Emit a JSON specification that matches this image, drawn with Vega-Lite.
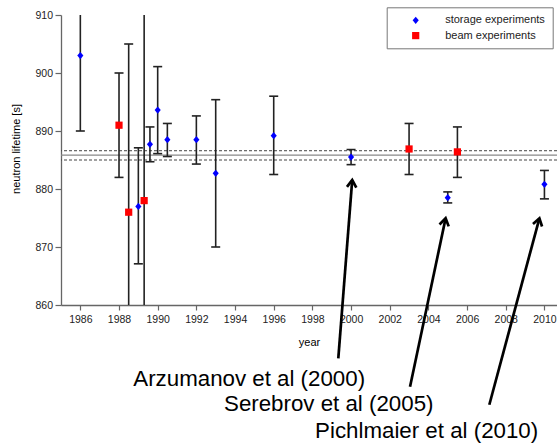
{
  "$schema": "https://vega.github.io/schema/vega-lite/v6.json",
  "width": 496,
  "height": 290,
  "autosize": {"type": "none"},
  "padding": {"left": 61, "top": 15, "right": 0, "bottom": 143},
  "background": "white",
  "datasets": {
    "measurements": [
      {"year": 1986, "lifetime": 903, "low": 890, "high": 916, "type": "storage experiments"},
      {"year": 1988, "lifetime": 891, "low": 882, "high": 900, "type": "beam experiments"},
      {"year": 1988.5, "lifetime": 876, "low": 847, "high": 905, "type": "beam experiments"},
      {"year": 1989, "lifetime": 877, "low": 867.1, "high": 887.1, "type": "storage experiments"},
      {"year": 1989.3, "lifetime": 878, "low": 843, "high": 915, "type": "beam experiments"},
      {"year": 1989.6, "lifetime": 887.7, "low": 884.7, "high": 890.7, "type": "storage experiments"},
      {"year": 1990, "lifetime": 893.6, "low": 886.1, "high": 901.1, "type": "storage experiments"},
      {"year": 1990.5, "lifetime": 888.5, "low": 885.6, "high": 891.3, "type": "storage experiments"},
      {"year": 1992, "lifetime": 888.5, "low": 884.3, "high": 892.6, "type": "storage experiments"},
      {"year": 1993, "lifetime": 882.7, "low": 870.0, "high": 895.4, "type": "storage experiments"},
      {"year": 1996, "lifetime": 889.2, "low": 882.5, "high": 896.0, "type": "storage experiments"},
      {"year": 2000, "lifetime": 885.5, "low": 884.2, "high": 886.8, "type": "storage experiments"},
      {"year": 2003, "lifetime": 886.9, "low": 882.5, "high": 891.3, "type": "beam experiments"},
      {"year": 2005, "lifetime": 878.5, "low": 877.6, "high": 879.5, "type": "storage experiments"},
      {"year": 2005.5, "lifetime": 886.4, "low": 882.0, "high": 890.7, "type": "beam experiments"},
      {"year": 2010, "lifetime": 880.8, "low": 878.3, "high": 883.2, "type": "storage experiments"}
    ],
    "average": [
      {"lifetime": 885.85, "line": "mean"},
      {"lifetime": 886.6, "line": "upper"},
      {"lifetime": 885.0, "line": "lower"}
    ],
    "notes": [
      {"label": "Arzumanov et al (2000)", "tail_year": 1999.34, "tail_lifetime": 850.8, "tip_year": 2000.06, "tip_lifetime": 881.55, "text_year": 1988.74, "text_lifetime": 846.1},
      {"label": "Serebrov et al (2005)", "tail_year": 2003.05, "tail_lifetime": 845.9, "tip_year": 2004.89, "tip_lifetime": 874.95, "text_year": 1993.43, "text_lifetime": 841.8},
      {"label": "Pichlmaier et al (2010)", "tail_year": 2007.15, "tail_lifetime": 842.8, "tip_year": 2009.74, "tip_lifetime": 874.95, "text_year": 1998.14, "text_lifetime": 837.0}
    ]
  },
  "config": {
    "view": {"stroke": null},
    "axis": {
      "grid": false,
      "labelFont": "Liberation Sans",
      "labelFontSize": 10.5,
      "labelColor": "#222",
      "titleFont": "Liberation Sans",
      "titleFontSize": 11,
      "titleFontWeight": "normal",
      "titleColor": "#000",
      "domainColor": "#666",
      "domainWidth": 1.3,
      "tickColor": "#666",
      "tickWidth": 1.2
    }
  },
  "layer": [
    {
      "data": {"name": "average"},
      "transform": [{"filter": "datum.line === 'mean'"}],
      "mark": {"type": "rule", "color": "#888", "strokeWidth": 1.3, "clip": true},
      "encoding": {
        "y": {"field": "lifetime", "type": "quantitative", "scale": {"domain": [860, 910], "nice": false, "zero": false}, "title": "neutron lifetime [s]"}
      }
    },
    {
      "data": {"name": "average"},
      "transform": [{"filter": "datum.line !== 'mean'"}],
      "mark": {"type": "rule", "color": "#444", "strokeWidth": 1, "strokeDash": [3, 2], "clip": true},
      "encoding": {
        "y": {"field": "lifetime", "type": "quantitative", "title": "neutron lifetime [s]"}
      }
    },
    {
      "data": {"name": "measurements"},
      "mark": {"type": "rule", "color": "#222", "strokeWidth": 1.6, "clip": true},
      "encoding": {
        "x": {"field": "year", "type": "quantitative", "scale": {"domain": [1985, 2010.65], "nice": false, "zero": false},
          "axis": {"values": [1986, 1988, 1990, 1992, 1994, 1996, 1998, 2000, 2002, 2004, 2006, 2008, 2010], "format": "d", "tickSize": 5, "labelPadding": 4, "titleY": 40, "titleBaseline": "alphabetic"},
          "title": "year"},
        "y": {"field": "low", "type": "quantitative",
          "axis": {"values": [860, 870, 880, 890, 900, 910], "tickSize": 6, "labelPadding": 2.5, "titleX": -45, "titleY": 133.5, "titleBaseline": "middle"},
          "title": "neutron lifetime [s]"},
        "y2": {"field": "high"}
      }
    },
    {
      "data": {"name": "measurements"},
      "mark": {"type": "point", "shape": "M-1,0L1,0", "size": 81, "filled": false, "color": "#222", "strokeWidth": 1.6, "opacity": 1, "clip": true},
      "encoding": {
        "x": {"field": "year", "type": "quantitative", "title": "year"},
        "y": {"field": "low", "type": "quantitative", "title": "neutron lifetime [s]"}
      }
    },
    {
      "data": {"name": "measurements"},
      "mark": {"type": "point", "shape": "M-1,0L1,0", "size": 81, "filled": false, "color": "#222", "strokeWidth": 1.6, "opacity": 1, "clip": true},
      "encoding": {
        "x": {"field": "year", "type": "quantitative", "title": "year"},
        "y": {"field": "high", "type": "quantitative", "title": "neutron lifetime [s]"}
      }
    },
    {
      "data": {"name": "measurements"},
      "mark": {"type": "point", "filled": true, "size": 52, "opacity": 1, "strokeWidth": 0, "clip": true},
      "encoding": {
        "x": {"field": "year", "type": "quantitative", "title": "year"},
        "y": {"field": "lifetime", "type": "quantitative", "title": "neutron lifetime [s]"},
        "color": {"field": "type", "type": "nominal",
          "scale": {"domain": ["storage experiments", "beam experiments"], "range": ["#0000ff", "#ff0000"]},
          "legend": {"title": null, "orient": "none", "legendX": 325.7, "legendY": -7.7, "padding": 7.5, "strokeColor": "#777", "fillColor": "white", "symbolOffset": 16, "labelOffset": 24, "rowPadding": 3.3, "labelFont": "Liberation Sans", "labelFontSize": 11, "labelColor": "#222", "symbolSize": 52, "symbolStrokeWidth": 0}},
        "shape": {"field": "type", "type": "nominal",
          "scale": {"domain": ["storage experiments", "beam experiments"], "range": ["M0,-1L0.85,0L0,1L-0.85,0Z", "square"]},
          "legend": {"title": null, "orient": "none", "legendX": 325.7, "legendY": -7.7, "padding": 7.5, "strokeColor": "#777", "fillColor": "white", "symbolOffset": 16, "labelOffset": 24, "rowPadding": 3.3, "labelFont": "Liberation Sans", "labelFontSize": 11, "labelColor": "#222", "symbolSize": 52, "symbolStrokeWidth": 0}}
      }
    },
    {
      "data": {"name": "notes"},
      "mark": {"type": "rule", "color": "#000", "strokeWidth": 2.7},
      "encoding": {
        "x": {"field": "tail_year", "type": "quantitative", "title": "year"},
        "y": {"field": "tail_lifetime", "type": "quantitative", "title": "neutron lifetime [s]"},
        "x2": {"field": "tip_year"},
        "y2": {"field": "tip_lifetime"}
      }
    },
    {
      "data": {"name": "notes"},
      "transform": [{"filter": "datum.label === 'Arzumanov et al (2000)'"}],
      "mark": {"type": "point", "shape": "M-1,1.55L0,0L1,1.55", "size": 88, "filled": false, "color": "#000", "strokeWidth": 2.7, "opacity": 1, "angle": 4.5},
      "encoding": {
        "x": {"field": "tip_year", "type": "quantitative", "title": "year"},
        "y": {"field": "tip_lifetime", "type": "quantitative", "title": "neutron lifetime [s]"}
      }
    },
    {
      "data": {"name": "notes"},
      "transform": [{"filter": "datum.label === 'Serebrov et al (2005)'"}],
      "mark": {"type": "point", "shape": "M-1,1.55L0,0L1,1.55", "size": 88, "filled": false, "color": "#000", "strokeWidth": 2.7, "opacity": 1, "angle": 12},
      "encoding": {
        "x": {"field": "tip_year", "type": "quantitative", "title": "year"},
        "y": {"field": "tip_lifetime", "type": "quantitative", "title": "neutron lifetime [s]"}
      }
    },
    {
      "data": {"name": "notes"},
      "transform": [{"filter": "datum.label === 'Pichlmaier et al (2010)'"}],
      "mark": {"type": "point", "shape": "M-1,1.55L0,0L1,1.55", "size": 88, "filled": false, "color": "#000", "strokeWidth": 2.7, "opacity": 1, "angle": 15},
      "encoding": {
        "x": {"field": "tip_year", "type": "quantitative", "title": "year"},
        "y": {"field": "tip_lifetime", "type": "quantitative", "title": "neutron lifetime [s]"}
      }
    },
    {
      "data": {"name": "notes"},
      "mark": {"type": "text", "align": "left", "baseline": "alphabetic", "font": "Liberation Sans", "fontSize": 22.3, "color": "#000"},
      "encoding": {
        "x": {"field": "text_year", "type": "quantitative", "title": "year"},
        "y": {"field": "text_lifetime", "type": "quantitative", "title": "neutron lifetime [s]"},
        "text": {"field": "label", "type": "nominal"}
      }
    }
  ]
}
